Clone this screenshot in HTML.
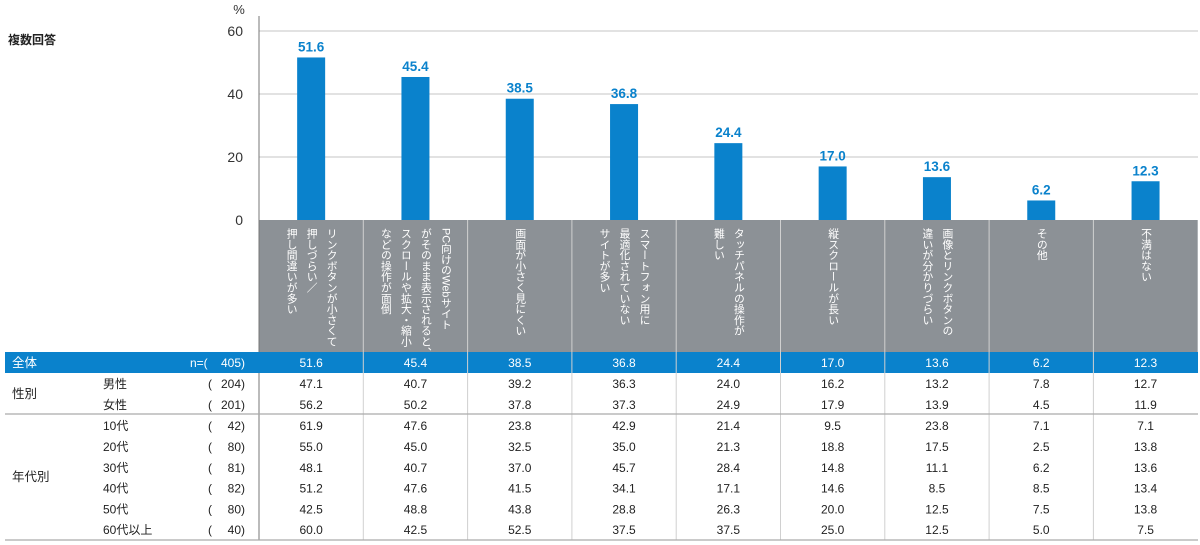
<!DOCTYPE html>
<html><head><meta charset="utf-8">
<style>
body{margin:0;background:#fff;width:1200px;height:545px;overflow:hidden;position:relative;font-family:"Liberation Sans","Noto Sans CJK JP",sans-serif;color:#222}
.a{position:absolute;white-space:nowrap}
.vt{position:absolute;writing-mode:vertical-rl;font-size:10.8px;line-height:20px;color:#fff;letter-spacing:0}
</style></head><body>
<svg id="chart" width="1200" height="545" style="position:absolute;left:0;top:0"></svg>
<div class="a" style="left:8px;top:31px;font-size:12px;font-weight:bold">複数回答</div>
<div id="hdr"></div>
<script>
const categories=["リンクボタンが小さくて\n押しづらい／\n押し間違いが多い","PC向けのWebサイト\nがそのまま表示されると、\nスクロールや拡大・縮小\nなどの操作が面倒","画面が小さく見にくい","スマートフォン用に\n最適化されていない\nサイトが多い","タッチパネルの操作が\n難しい","縦スクロールが長い","画像とリンクボタンの\n違いが分かりづらい","その他","不満はない"];
const totalValues=[51.6,45.4,38.5,36.8,24.4,17.0,13.6,6.2,12.3];
const yTicks=[0,20,40,60];
const rowLabels=["男性","女性","10代","20代","30代","40代","50代","60代以上"];
const rowN=[204,201,42,80,81,82,80,40];
const rowValues=[
[47.1,40.7,39.2,36.3,24.0,16.2,13.2,7.8,12.7],
[56.2,50.2,37.8,37.3,24.9,17.9,13.9,4.5,11.9],
[61.9,47.6,23.8,42.9,21.4,9.5,23.8,7.1,7.1],
[55.0,45.0,32.5,35.0,21.3,18.8,17.5,2.5,13.8],
[48.1,40.7,37.0,45.7,28.4,14.8,11.1,6.2,13.6],
[51.2,47.6,41.5,34.1,17.1,14.6,8.5,8.5,13.4],
[42.5,48.8,43.8,28.8,26.3,20.0,12.5,7.5,13.8],
[60.0,42.5,52.5,37.5,37.5,25.0,12.5,5.0,7.5]];
const totalN=405;

const NS="http://www.w3.org/2000/svg";
const svg=document.getElementById('chart');
const x0=259,colW=104.3,y0=220,pxPer=63/20;
const Y=v=>y0-v*pxPer, CX=i=>x0+colW*(i+0.5);
function el(t,at,txt){const e=document.createElementNS(NS,t);for(const k in at)e.setAttribute(k,at[k]);if(txt!=null)e.textContent=txt;svg.appendChild(e);return e;}
let r=el('rect',{x:x0,y:y0,width:colW*9,height:132,fill:'#8c9196'});


yTicks.forEach(t=>{
 if(t>0){let g=el('line',{x1:x0,x2:1198,y1:Y(t),y2:Y(t),stroke:'#d8d8d8','stroke-width':1.5});
 
 }
 let tx=el('text',{x:243,y:Y(t)+5,'text-anchor':'end','font-size':14,fill:'#333'},t);
 
 
});
let pc=el('text',{x:239,y:14,'text-anchor':'middle','font-size':13,fill:'#333'},'%');


let ax=el('line',{x1:x0,x2:x0,y1:16,y2:540,stroke:'#777','stroke-width':1});


totalValues.forEach((v,i)=>{
 let b=el('rect',{x:CX(i)-14,y:Y(v),width:28,height:v*pxPer,fill:'#0a82cc'});
 
 
 let l=el('text',{x:CX(i),y:Y(v)-6,'text-anchor':'middle','font-size':13.5,'font-weight':'bold',fill:'#0a82cc'},v.toFixed(1));
 
 
});
let br=el('rect',{x:5,y:352,width:1193,height:21,fill:'#0a82cc'});


let tl=el('text',{x:12,y:367,'font-size':12.5,fill:'#fff'},'全体');


let tn0=el('text',{x:190,y:367,'font-size':12,fill:'#fff'},'n=(');


let tn=el('text',{x:245,y:367,'text-anchor':'end','font-size':12,fill:'#fff'},totalN+')');


totalValues.forEach((v,i)=>{
 let t=el('text',{x:CX(i),y:367,'text-anchor':'middle','font-size':12,fill:'#fff'},v.toFixed(1));
 
 
});
for(let i=1;i<9;i++){
 let s=el('line',{x1:x0+colW*i,x2:x0+colW*i,y1:y0,y2:540,stroke:'#d0d0d0','stroke-width':1});
 
 
}
const rowY=i=>383+i*20.8+(i>=2?0.6:0);
rowLabels.forEach((lab,i)=>{
 const yy=rowY(i)+5;
 let a=el('text',{x:103,y:yy,'font-size':12,fill:'#222'},lab);
 
 
 let p=el('text',{x:208,y:yy,'font-size':12,fill:'#222'},'(');
 
 
 let n=el('text',{x:245,y:yy,'text-anchor':'end','font-size':12,fill:'#222'},rowN[i]+')');
 
 
 rowValues[i].forEach((v,j)=>{
  let c=el('text',{x:CX(j),y:yy,'text-anchor':'middle','font-size':12,fill:'#222'},v.toFixed(1));
  
  
 });
});
let g1=el('text',{x:12,y:398,'font-size':12.5,fill:'#222'},'性別');


let g2=el('text',{x:12,y:481,'font-size':12.5,fill:'#222'},'年代別');


[414,540].forEach(yy=>{
 let h=el('line',{x1:5,x2:1198,y1:yy,y2:yy,stroke:'#aaa','stroke-width':1.2});
 
 
});
const hdr=document.getElementById('hdr');
categories.forEach((c,i)=>{
 const d=document.createElement('div');
 d.className='vt';
 
 
 d.innerHTML=c.split('\n').join('<br>');
 hdr.appendChild(d);
 const w=d.offsetWidth;
 d.style.left=(CX(i)-w/2)+'px';
 d.style.top='228px';
});
</script>
</body></html>
